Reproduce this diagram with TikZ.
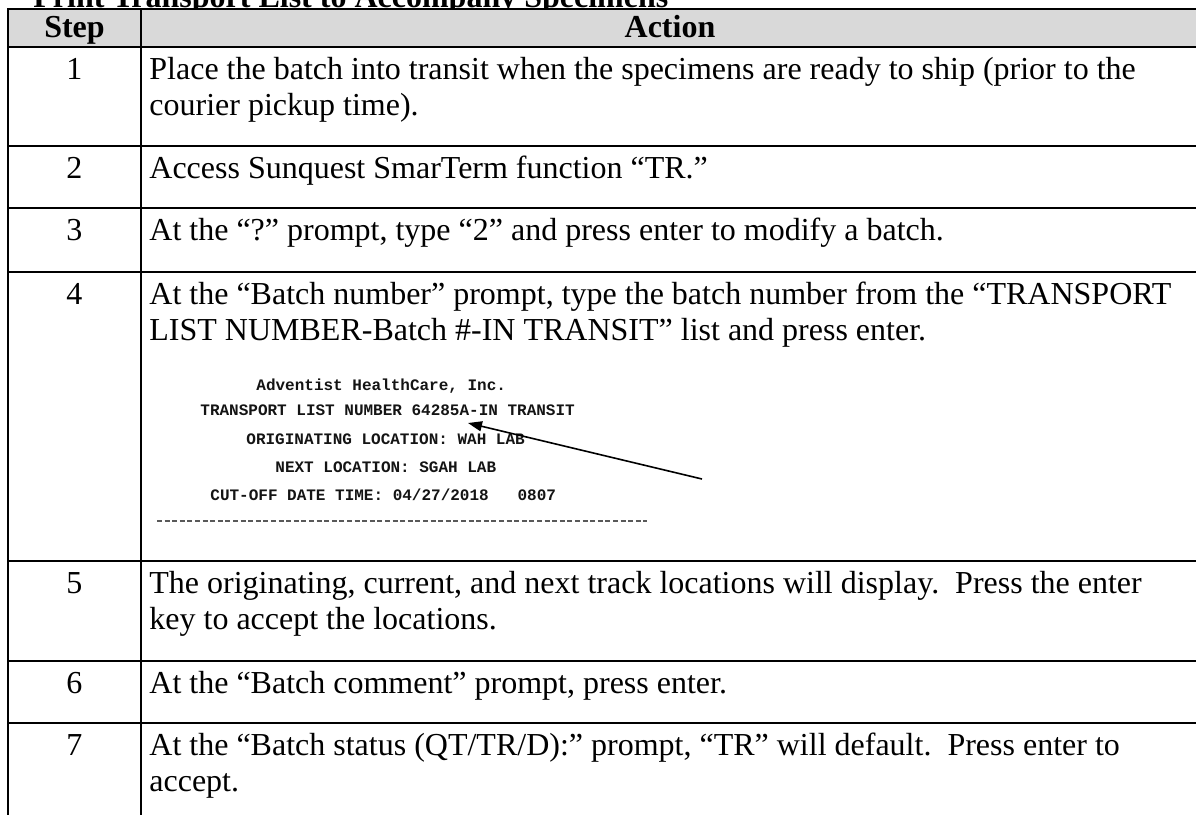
\documentclass[tikz,border=0pt]{standalone}
\usepackage{fontspec}
\setmainfont{Liberation Serif}
\newfontfamily\scanfont{Liberation Mono}
\usetikzlibrary{arrows.meta}
\definecolor{headgray}{RGB}{217,217,217}
\tikzset{
  rule/.style={line width=1pt},
  cell/.style={anchor=base west, inner sep=0pt, font=\fontsize{16}{18}\selectfont},
  stepno/.style={anchor=base, inner sep=0pt, font=\fontsize{16}{18}\selectfont},
  head/.style={anchor=base, inner sep=0pt, font=\fontsize{16}{18}\selectfont\bfseries},
  scan/.style={anchor=base west, inner sep=0pt, text=black!92,
    font=\fontsize{8}{9}\scanfont\bfseries},
  scandash/.style={black!65, line width=0.6pt, dash pattern=on 2.5pt off 1.3pt},
  pointer/.style={line width=0.8pt, -{Triangle[length=7pt,width=5pt]}}
}
\begin{document}
\frenchspacing
\begin{tikzpicture}[x=0.5pt,y=-0.5pt]
	\useasboundingbox (0,0) rectangle (1196,815);
	\clip (0,0) rectangle (1196,815);
	% title, cut by the top edge
	\node[anchor=base west, inner sep=0pt, font=\fontsize{16}{18}\selectfont\bfseries] (title) at (33,7) {Print Transport List to Accompany Specimens};
	% table frame
	\fill[headgray] (8,9) rectangle (1198,47);
	\draw[rule] (8,820) -- (8,9) -- (1198,9);
	\draw[rule] (141,9) -- (141,820);
	\foreach \y in {47,146,208,272,561,661,723}
		\draw[rule] (8,\y) -- (1198,\y);
	\node[head] (hstep) at (74.5,37) {Step};
	\node[head] (haction) at (670,37) {Action};
	\foreach \n/\y in {1/79,2/178,3/240,4/304,5/593,6/693,7/755}
		\node[stepno] (s\n) at (74.5,\y) {\n};
	% actions
	\node[cell] (a1) at (149,79) {Place the batch into transit when the specimens are ready to ship (prior to the};
	\node[cell] (a1b) at (149,115.5) {courier pickup time).};
	\node[cell] (a2) at (149,178) {Access Sunquest SmarTerm function “TR.”};
	\node[cell] (a3) at (149,240) {At the “?” prompt, type “2” and press enter to modify a batch.};
	\node[cell] (a4) at (149,304) {At the “Batch number” prompt, type the batch number from the “TRANSPORT};
	\node[cell] (a4b) at (149,340.5) {LIST NUMBER-Batch \#-IN TRANSIT” list and press enter.};
	\node[cell] (a5) at (149,593) {The originating, current, and next track locations will display.\ \ Press the enter};
	\node[cell] (a5b) at (149,629.5) {key to accept the locations.};
	\node[cell] (a6) at (149,693) {At the “Batch comment” prompt, press enter.};
	\node[cell] (a7) at (149,755) {At the “Batch status (QT/TR/D):” prompt, “TR” will default.\ \ Press enter to};
	\node[cell] (a7b) at (149,791.5) {accept.};
	% pasted printout in step 4
	\node[scan] (org) at (256,390) {Adventist HealthCare, Inc.};
	\node[scan] (list) at (200,415) {TRANSPORT LIST NUMBER 64285A-IN TRANSIT};
	\node[scan] (orig) at (246,444) {ORIGINATING LOCATION: WAH LAB};
	\node[scan] (next) at (275,472) {NEXT LOCATION: SGAH LAB};
	\node[scan] (cutoff) at (210,500) {CUT-OFF DATE TIME: 04/27/2018\ \ \ 0807};
	\draw[scandash] (157,521) -- (647,521);
	\coordinate (tail) at (702,479);
	\coordinate (tip) at (468,423);
	\draw[pointer] (tail) -- (tip);
\end{tikzpicture}
\end{document}
